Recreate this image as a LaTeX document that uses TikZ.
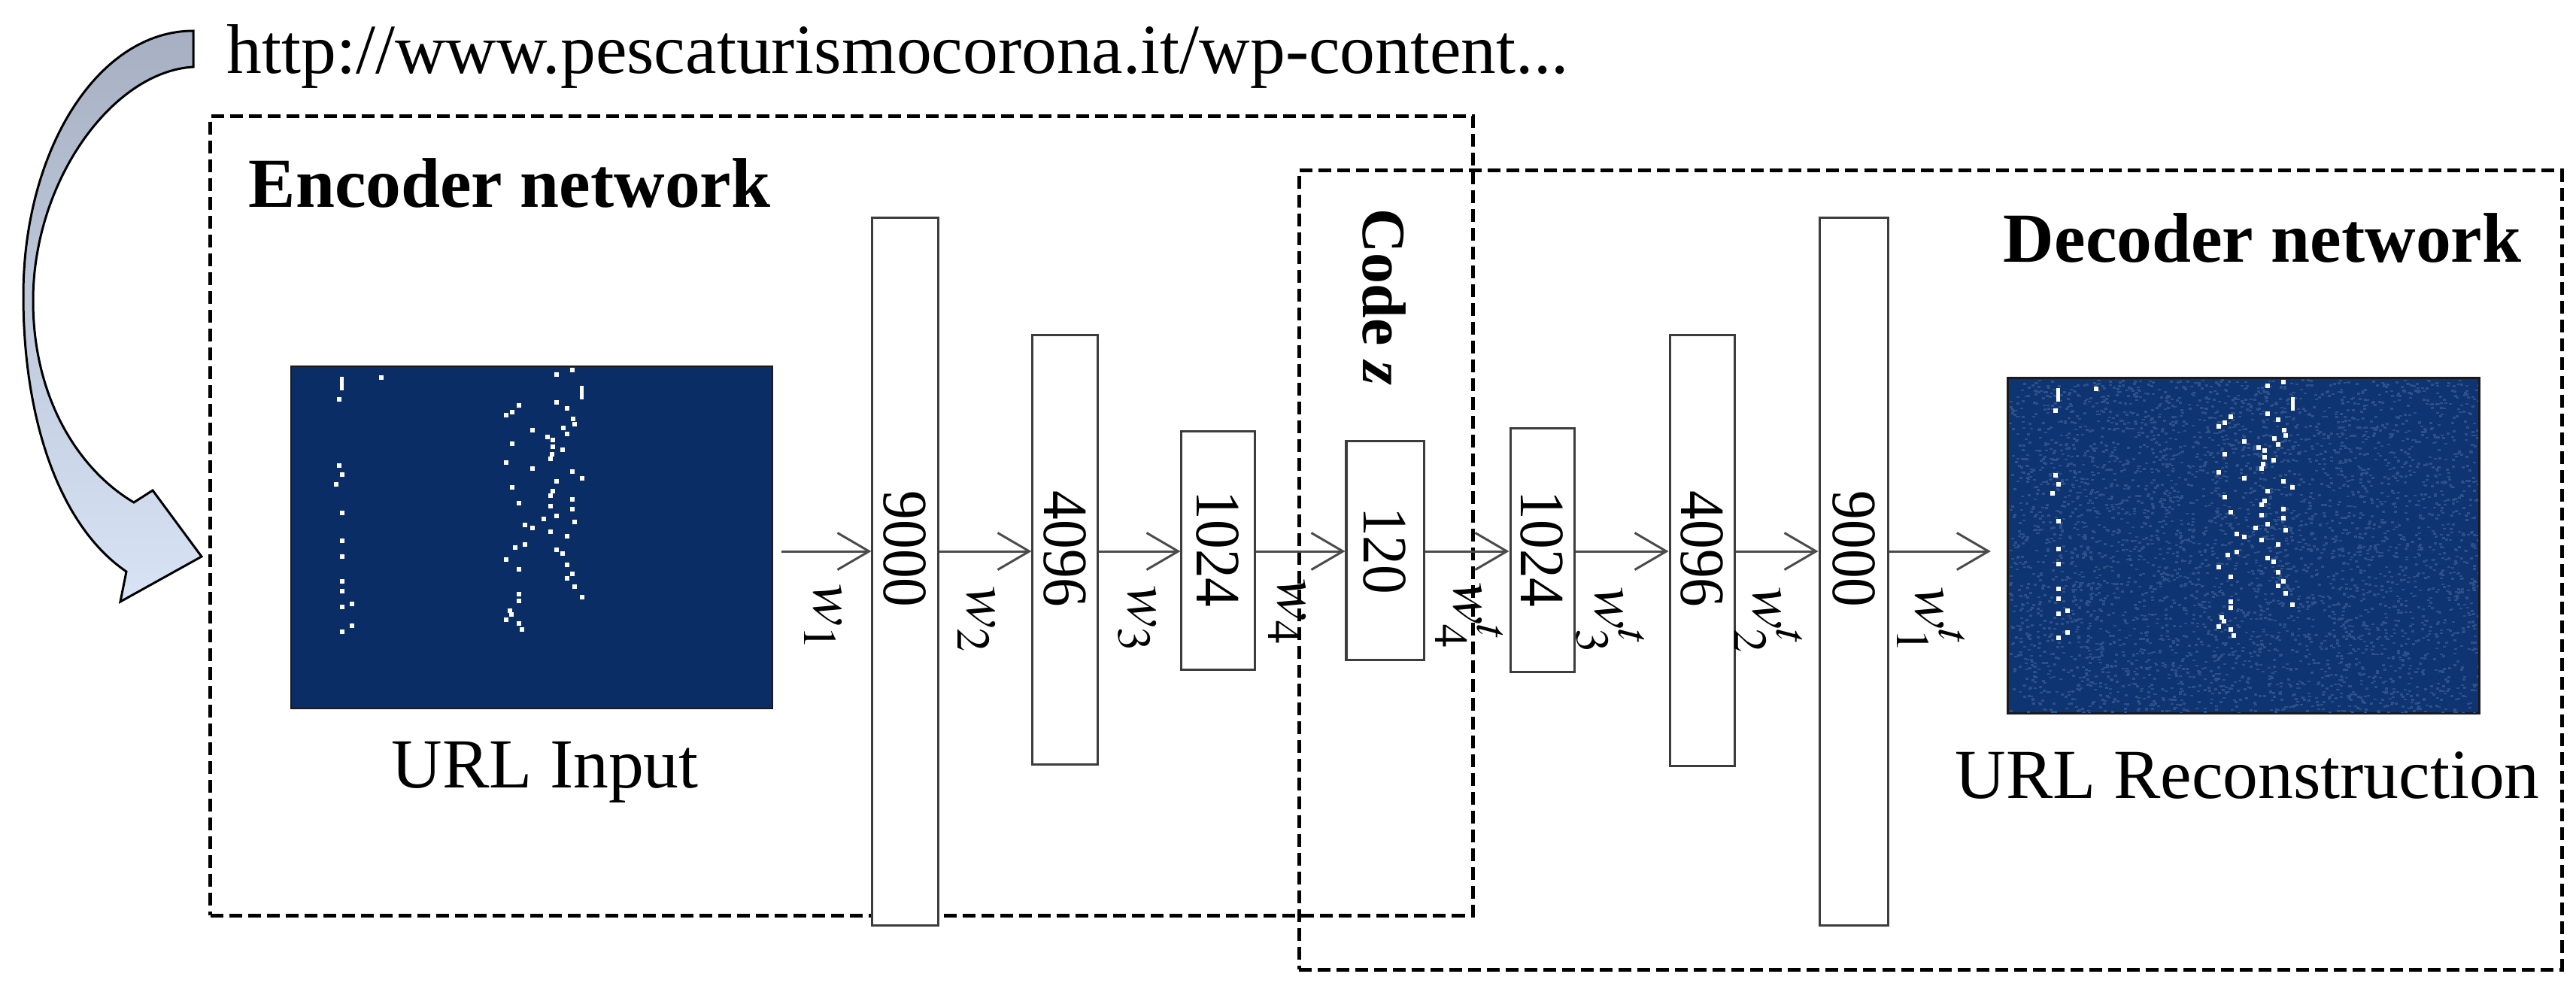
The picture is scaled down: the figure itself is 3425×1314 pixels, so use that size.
\documentclass[tikz,border=0pt]{standalone}
\usepackage{mathptmx}
\usepackage[no-math]{fontspec}
\setmainfont{Liberation Serif}
\usetikzlibrary{arrows.meta,calc}
\definecolor{navy}{RGB}{9,45,100}
\definecolor{navyb}{RGB}{14,52,114}
\definecolor{speck}{RGB}{46,80,136}
\definecolor{boxline}{RGB}{60,60,60}
\definecolor{arrline}{RGB}{75,75,75}
\definecolor{arrtop}{RGB}{166,176,194}
\definecolor{arrbot}{RGB}{216,228,246}
\def\dotlist{296/229,296/480,304/516,288/551,304/659,304/766,304/825,304/920,304/957,304/1017,328/1004,304/1110,328/1088,405/147,
903/120,862/135,862/241,890/265,764/254,747/278,731/290,905/305,910/325,799/348,879/337,890/360,838/372,853/385,853/410,747/398,878/421,850/437,846/455,731/468,799/491,903/503,928/528,862/541,747/564,853/578,846/595,903/610,764/624,846/635,903/647,862/670,829/683,910/694,780/706,799/718,846/730,890/748,780/778,755/790,862/800,878/814,731/836,890/855,764/874,903/890,890/908,910/938,928/980,764/968,764/993,740/1030,745/1045,731/1065,764/1077,771/1100}
\newcommand\urldots[4]{%
  \foreach \px/\py in \dotlist {\fill[white] ({#1+(\px-170)*#3-3},{#2+(\py-105)*#4-3}) rectangle ++(6,6);}
  \fill[white] ({#1+(303-170)*#3-2.5},{#2+(170-105)*#4-9}) rectangle ++(5,18);
  \fill[white] ({#1+(928-170)*#3-2.5},{#2+(205-105)*#4-9}) rectangle ++(5,18);
}
\begin{document}
\begin{tikzpicture}[x=0.01cm,y=-0.01cm,
  layerbox/.style={draw=boxline,line width=0.03cm,fill=white,inner sep=0},
  num/.style={rotate=-90,inner sep=0,font=\fontsize{23.9}{26}\selectfont},
  wlab/.style={rotate=-90,inner sep=0,font=\fontsize{24}{26}\selectfont},
  conn/.style={draw=arrline,line width=0.03cm,-{Straight Barb[length=4.2mm,width=4.9mm]}},
  dbox/.style={draw=black,line width=0.05cm,dash pattern=on 0.17cm off 0.08cm,inner sep=0,minimum width=16.78cm,minimum height=10.62cm},
  img/.style={draw={rgb,255:red,25;green,25;blue,30},line width=0.02cm,inner sep=0},
  bigtxt/.style={inner sep=0,font=\fontsize{26.6}{30}\selectfont},
  bigbold/.style={inner sep=0,font=\fontsize{26.6}{30}\selectfont\bfseries}]
\useasboundingbox (0,0) rectangle (3425,1314);

% group boxes
\node[dbox] (enc) at (1119,686) {};
\node[dbox] (dec) at (2566.5,758) {};

% images
\node[img,fill=navy,minimum width=6.40cm,minimum height=4.55cm] (inimg) at (707,714.5) {};
\urldots{387}{487}{0.51}{0.3514}
\node[img,fill=navyb,minimum width=6.26cm,minimum height=4.45cm] (recimg) at (2983,725.5) {};
\begin{scope}
\clip (2671,504) rectangle (3295,947);
\pgfmathsetseed{7}
\foreach \i in {1,...,4200}{\fill[speck] ({2671+rnd*624},{504+rnd*443}) rectangle ++(4,2.5);}
\end{scope}
\draw[img] (recimg.north west) rectangle (recimg.south east);
\urldots{2670}{503}{0.4988}{0.3436}

% layer boxes
\node[layerbox,minimum width=0.87cm,minimum height=9.40cm] (b1) at (1203.5,760) {};
\node[layerbox,minimum width=0.86cm,minimum height=5.70cm] (b2) at (1416,731) {};
\node[layerbox,minimum width=0.97cm,minimum height=3.16cm] (b3) at (1619.5,732) {};
\node[layerbox,minimum width=1.03cm,minimum height=2.90cm] (b4) at (1841.5,732) {};
\node[layerbox,minimum width=0.85cm,minimum height=3.23cm] (b5) at (2050.5,731.5) {};
\node[layerbox,minimum width=0.86cm,minimum height=5.72cm] (b6) at (2263,732) {};
\node[layerbox,minimum width=0.91cm,minimum height=9.40cm] (b7) at (2464.5,760) {};

\node[num] (n1) at (1203.5,730) {\scalebox{.92}[1]{9000}};
\node[num] (n2) at (1416,730) {\scalebox{.92}[1]{4096}};
\node[num] (n3) at (1619.5,730) {\scalebox{.92}[1]{1024}};
\node[num] (n4) at (1841.5,732) {\scalebox{.92}[1]{120}};
\node[num] (n5) at (2050.5,730) {\scalebox{.92}[1]{1024}};
\node[num] (n6) at (2263,730) {\scalebox{.92}[1]{4096}};
\node[num] (n7) at (2464.5,730) {\scalebox{.92}[1]{9000}};

% connectors
\coordinate (ay) at (0,733);
\draw[conn,shorten <=0.11cm] (inimg.east |- ay) -- (b1.west |- ay);
\draw[conn] (b1.east |- ay) -- (b2.west |- ay);
\draw[conn] (b2.east |- ay) -- (b3.west |- ay);
\draw[conn] (b3.east |- ay) -- (b4.west |- ay);
\draw[conn] (b4.east |- ay) -- (b5.west |- ay);
\draw[conn] (b5.east |- ay) -- (b6.west |- ay);
\draw[conn] (b6.east |- ay) -- (b7.west |- ay);
\draw[conn,shorten >=0.22cm] (b7.east |- ay) -- (recimg.west |- ay);

% weight labels
\node[wlab] (l1) at (1094,821) {$w_1$};
\node[wlab] (l2) at (1298,824) {$w_2$};
\node[wlab] (l3) at (1512,823) {$w_3$};
\node[wlab] (l4) at (1711,814) {$w_4$};
\node[wlab] (l5) at (1953,819) {$w_4^t$};
\node[wlab] (l6) at (2141,825) {$w_3^t$};
\node[wlab] (l7) at (2351,825) {$w_2^t$};
\node[wlab] (l8) at (2567,825) {$w_1^t$};

% texts
\node[bigtxt,anchor=base west] (url) at (301,97) {http://www.pescaturismocorona.it/wp-content...};
\node[bigbold,anchor=base west] (enct) at (330,275) {Encoder network};
\node[bigbold,anchor=base east] (dect) at (3353,348) {Decoder network};
\node[bigtxt,anchor=base west] (inl) at (520,1047) {URL Input};
\node[bigtxt,anchor=base west] (recl) at (2599,1061) {URL Reconstruction};
\node[rotate=-90,inner sep=0,font=\fontsize{23.3}{26}\selectfont\bfseries] (code) at (1840,395) {Code \textit{z}};

% curved arrow
\path[draw=black,line width=0.03cm,top color=arrtop,bottom color=arrbot]
  (257,41) -- (257,89) .. controls (150,95) and (44,240) .. (44,400)
  .. controls (44,530) and (105,625) .. (178,668) -- (203,652) -- (268,740)
  -- (160,800) -- (168,760) .. controls (80,700) and (31,560) .. (31,393)
  .. controls (31,200) and (130,41) .. (257,41) -- cycle;
\end{tikzpicture}
\end{document}
